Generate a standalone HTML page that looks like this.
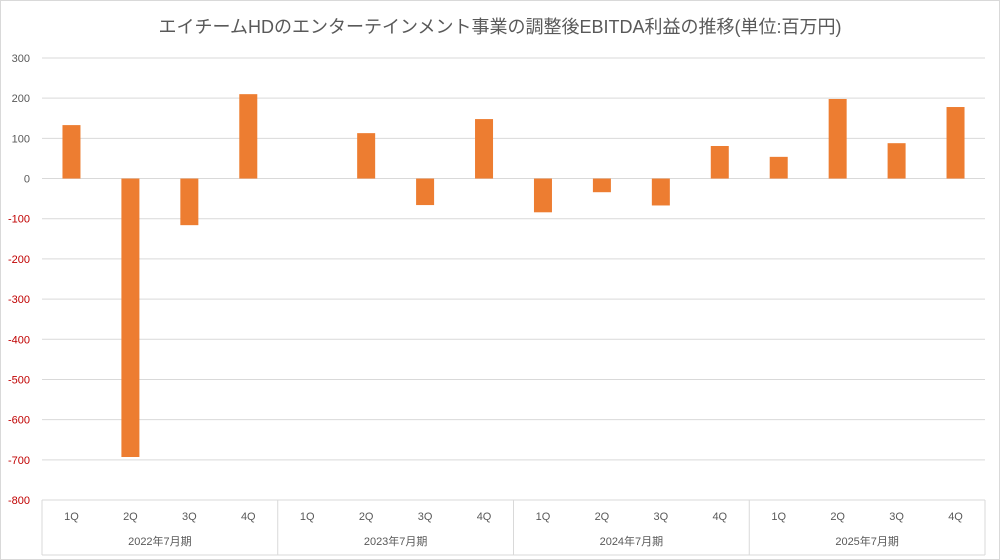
<!DOCTYPE html>
<html><head><meta charset="utf-8"><style>
html,body{margin:0;padding:0;background:#fff}
svg{display:block;font-family:"Liberation Sans","Noto Sans CJK JP",sans-serif}
</style></head><body>
<svg id="chart" width="1000" height="560">
<rect x="0.5" y="0.5" width="999" height="559" fill="#fff" stroke="#d9d9d9"/>
<text x="500" y="33" text-anchor="middle" font-size="18" fill="#595959">エイチームHDのエンターテインメント事業の調整後EBITDA利益の推移(単位:百万円)</text>
<g id="grid"></g><g id="bars"></g><g id="axis"></g>
</svg>
<script>
const quarters=["1Q","2Q","3Q","4Q","1Q","2Q","3Q","4Q","1Q","2Q","3Q","4Q","1Q","2Q","3Q","4Q"];
const groups=["2022年7月期","2023年7月期","2024年7月期","2025年7月期"];
const values=[133,-693,-116,210,0,113,-66,148,-84,-34,-67,81,54,198,88,178];
const ticks=[300,200,100,0,-100,-200,-300,-400,-500,-600,-700,-800];
const NS="http://www.w3.org/2000/svg";
const L=42,R=985,T=58,B=500,yMax=300,yMin=-800;
const y=v=>T+(yMax-v)/(yMax-yMin)*(B-T);
const bw=(R-L)/quarters.length;
const x=i=>L+bw*i+bw/2;
function mk(tag,attrs,parent,txt){const e=document.createElementNS(NS,tag);for(const k in attrs)e.setAttribute(k,attrs[k]);if(txt!==undefined)e.textContent=txt;document.getElementById(parent).appendChild(e);return e;}
ticks.forEach(t=>{
 const l=mk('line',{x1:L,x2:R,y1:y(t),y2:y(t),stroke:'#d9d9d9','stroke-width':1},'grid');
 
 
 const tx=mk('text',{x:30,y:y(t)+4,'text-anchor':'end','font-size':11,fill:t<0?'#c00000':'#595959'},'axis',String(t));
 
 
});
values.forEach((v,i)=>{
 const r=mk('rect',{x:x(i)-9,y:Math.min(y(v),y(0)),width:18,height:Math.abs(y(v)-y(0)),fill:'#ed7d31'},'bars');
 
 
});
quarters.forEach((q,i)=>{
 const t=mk('text',{x:x(i),y:520,'text-anchor':'middle','font-size':11,fill:'#595959'},'axis',q);
 
 
});
groups.forEach((g,j)=>{
 const t=mk('text',{x:L+bw*4*j+bw*2,y:545,'text-anchor':'middle','font-size':11,fill:'#595959'},'axis',g);
 
 
});
for(let j=0;j<=groups.length;j++){
 const xx=L+bw*4*j;
 const l=mk('line',{x1:xx,x2:xx,y1:B,y2:555,stroke:'#d9d9d9'},'axis');
 
 
}
const bl=mk('line',{x1:L,x2:R,y1:555,y2:555,stroke:'#d9d9d9'},'axis');


</script>
</body></html>
